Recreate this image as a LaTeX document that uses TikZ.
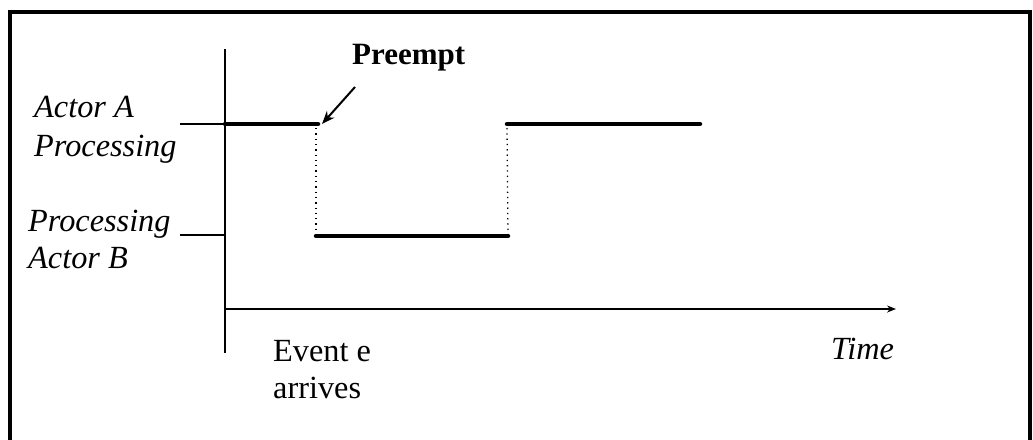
\documentclass[tikz,border=0pt]{standalone}
\usepackage{fontspec}
\setmainfont{Liberation Serif}
\usetikzlibrary{arrows.meta}
\begin{document}
\begin{tikzpicture}[x=1pt,y=-1pt,
  lbl/.style={inner sep=0pt,anchor=base west,font=\fontsize{32.3}{36}\selectfont},
  ilbl/.style={lbl,font=\fontsize{32.3}{36}\selectfont\itshape},
  axis/.style={line width=2pt},
  level/.style={line width=4.5pt,line cap=round},
  tick/.style={line width=2pt},
  guide/.style={line width=1.3pt,dash pattern=on 1.3pt off 4pt}]
\useasboundingbox (0,0) rectangle (1033,439);
\clip (0,0) rectangle (1033,439);
% open frame
\draw[line width=4pt] (10,460) -- (10,12) -- (1030,12) -- (1030,460);

% axes
\coordinate (vtop) at (225,49);
\coordinate (vbot) at (225,353);
\coordinate (t0) at (225,309);
\coordinate (tend) at (896,309);
\draw[axis] (vtop) -- (vbot);
\draw[axis,-{Stealth[length=9pt,width=7pt]}] (t0) -- (tend);

% level ticks
\coordinate (ta) at (180,124);
\coordinate (tb) at (180,235);
\coordinate (aa) at (225,124);
\coordinate (ab) at (225,235);
\draw[tick] (ta) -- (aa);
\draw[tick] (tb) -- (ab);

% activity levels
\coordinate (a1) at (318,124);
\coordinate (a2) at (507,124);
\coordinate (a3) at (700,124);
\coordinate (b1) at (316,236);
\coordinate (b2) at (508,236);
\draw[level] (aa) -- (a1);
\draw[level] (a2) -- (a3);
\draw[level] (b1) -- (b2);
\draw[guide] (316,128) -- (b1);
\draw[guide] (507,128) -- (b2);

% labels
\node[ilbl] (actA) at (34,117) {Actor A};
\node[ilbl] (procA) at (34,156) {Processing};
\node[ilbl] (procB) at (28,231) {Processing};
\node[ilbl] (actB) at (28,268) {Actor B};
\node[lbl] (ev1) at (273,361) {Event e};
\node[lbl] (ev2) at (273,398) {arrives};
\node[ilbl] (time) at (831,359) {Time};
\node[lbl,font=\fontsize{31}{36}\selectfont\bfseries] (pre) at (352,64) {Preempt};

% preempt pointer
\coordinate (ps) at (355,87);
\coordinate (pe) at (322,124);
\draw[line width=2pt,-{Stealth[length=13pt,width=10pt]}] (ps) -- (pe);
\end{tikzpicture}
\end{document}
